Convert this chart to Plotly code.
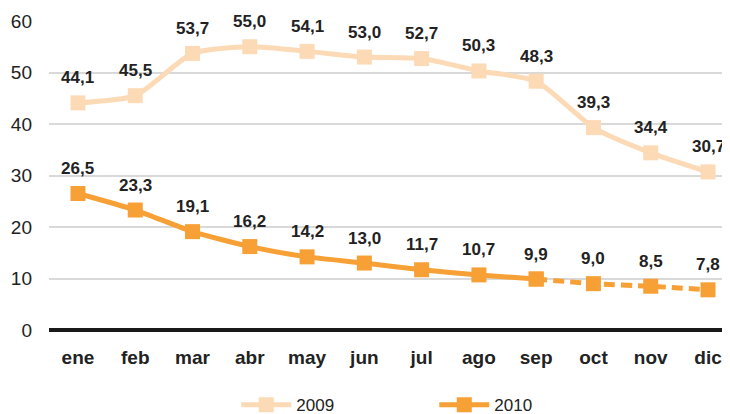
import plotly.graph_objects as go

months = ["ene", "feb", "mar", "abr", "may", "jun", "jul", "ago", "sep", "oct", "nov", "dic"]
v2009 = [44.1, 45.5, 53.7, 55.0, 54.1, 53.0, 52.7, 50.3, 48.3, 39.3, 34.4, 30.7]
v2010 = [26.5, 23.3, 19.1, 16.2, 14.2, 13.0, 11.7, 10.7, 9.9, 9.0, 8.5, 7.8]
solid_end = 8  # index of "sep"; 2010 dashed after that

c2009 = "#FDDAB6"
c2010 = "#F7A035"
FONT = "Liberation Sans, Arial, sans-serif"

def fmt(v):
    return f"{v:.1f}".replace(".", ",")

fig = go.Figure()
fig.add_trace(go.Scatter(
    x=months, y=v2009, name="2009", mode="lines+markers",
    line=dict(color=c2009, width=5, shape="spline", smoothing=0.6),
    marker=dict(symbol="square", size=15, color=c2009),
))
fig.add_trace(go.Scatter(
    x=months[:solid_end + 1], y=v2010[:solid_end + 1], name="2010", mode="lines+markers",
    line=dict(color=c2010, width=5, shape="spline", smoothing=0.6),
    marker=dict(symbol="square", size=15, color=c2010),
))
fig.add_trace(go.Scatter(
    x=months[solid_end:], y=v2010[solid_end:], name="2010", mode="lines+markers",
    showlegend=False,
    line=dict(color=c2010, width=5, dash="11px,6px", shape="spline", smoothing=0.6),
    marker=dict(symbol="square", size=15, color=c2010),
))

for m, v in zip(months, v2009):
    fig.add_annotation(x=m, y=v, text=f"<b>{fmt(v)}</b>", showarrow=False,
                       yshift=25, font=dict(family=FONT, size=17, color="#222222"))
for m, v in zip(months, v2010):
    fig.add_annotation(x=m, y=v, text=f"<b>{fmt(v)}</b>", showarrow=False,
                       yshift=25, font=dict(family=FONT, size=17, color="#222222"))

fig.update_layout(
    width=730, height=414,
    margin=dict(l=41, r=8, t=13, b=92, autoexpand=False),
    plot_bgcolor="white", paper_bgcolor="white",
    font=dict(family=FONT, color="#222222"),
    showlegend=True,
    legend=dict(orientation="h", x=0.275, xanchor="left", y=-0.243, yanchor="middle",
                font=dict(family=FONT, size=17, color="#222222"),
                itemwidth=50, tracegroupgap=0, entrywidth=133),
)
fig.update_xaxes(
    type="category", range=[-0.506, 11.384], automargin=False,
    showgrid=False, showline=False, ticks="", ticklabelstandoff=14,
    tickfont=dict(family=FONT, size=19, color="#222222"),
    tickvals=months, ticktext=[f"<b>{m}</b>" for m in months],
)
fig.update_yaxes(
    range=[0, 60], dtick=10, showgrid=True, gridcolor="#D9D9D9", gridwidth=1.5,
    zeroline=True, zerolinecolor="#1a1a1a", zerolinewidth=4, automargin=False,
    showline=False, ticks="", ticklabelstandoff=16,
    tickfont=dict(family=FONT, size=19, color="#222222"),
)
fig.write_html("out.html")
